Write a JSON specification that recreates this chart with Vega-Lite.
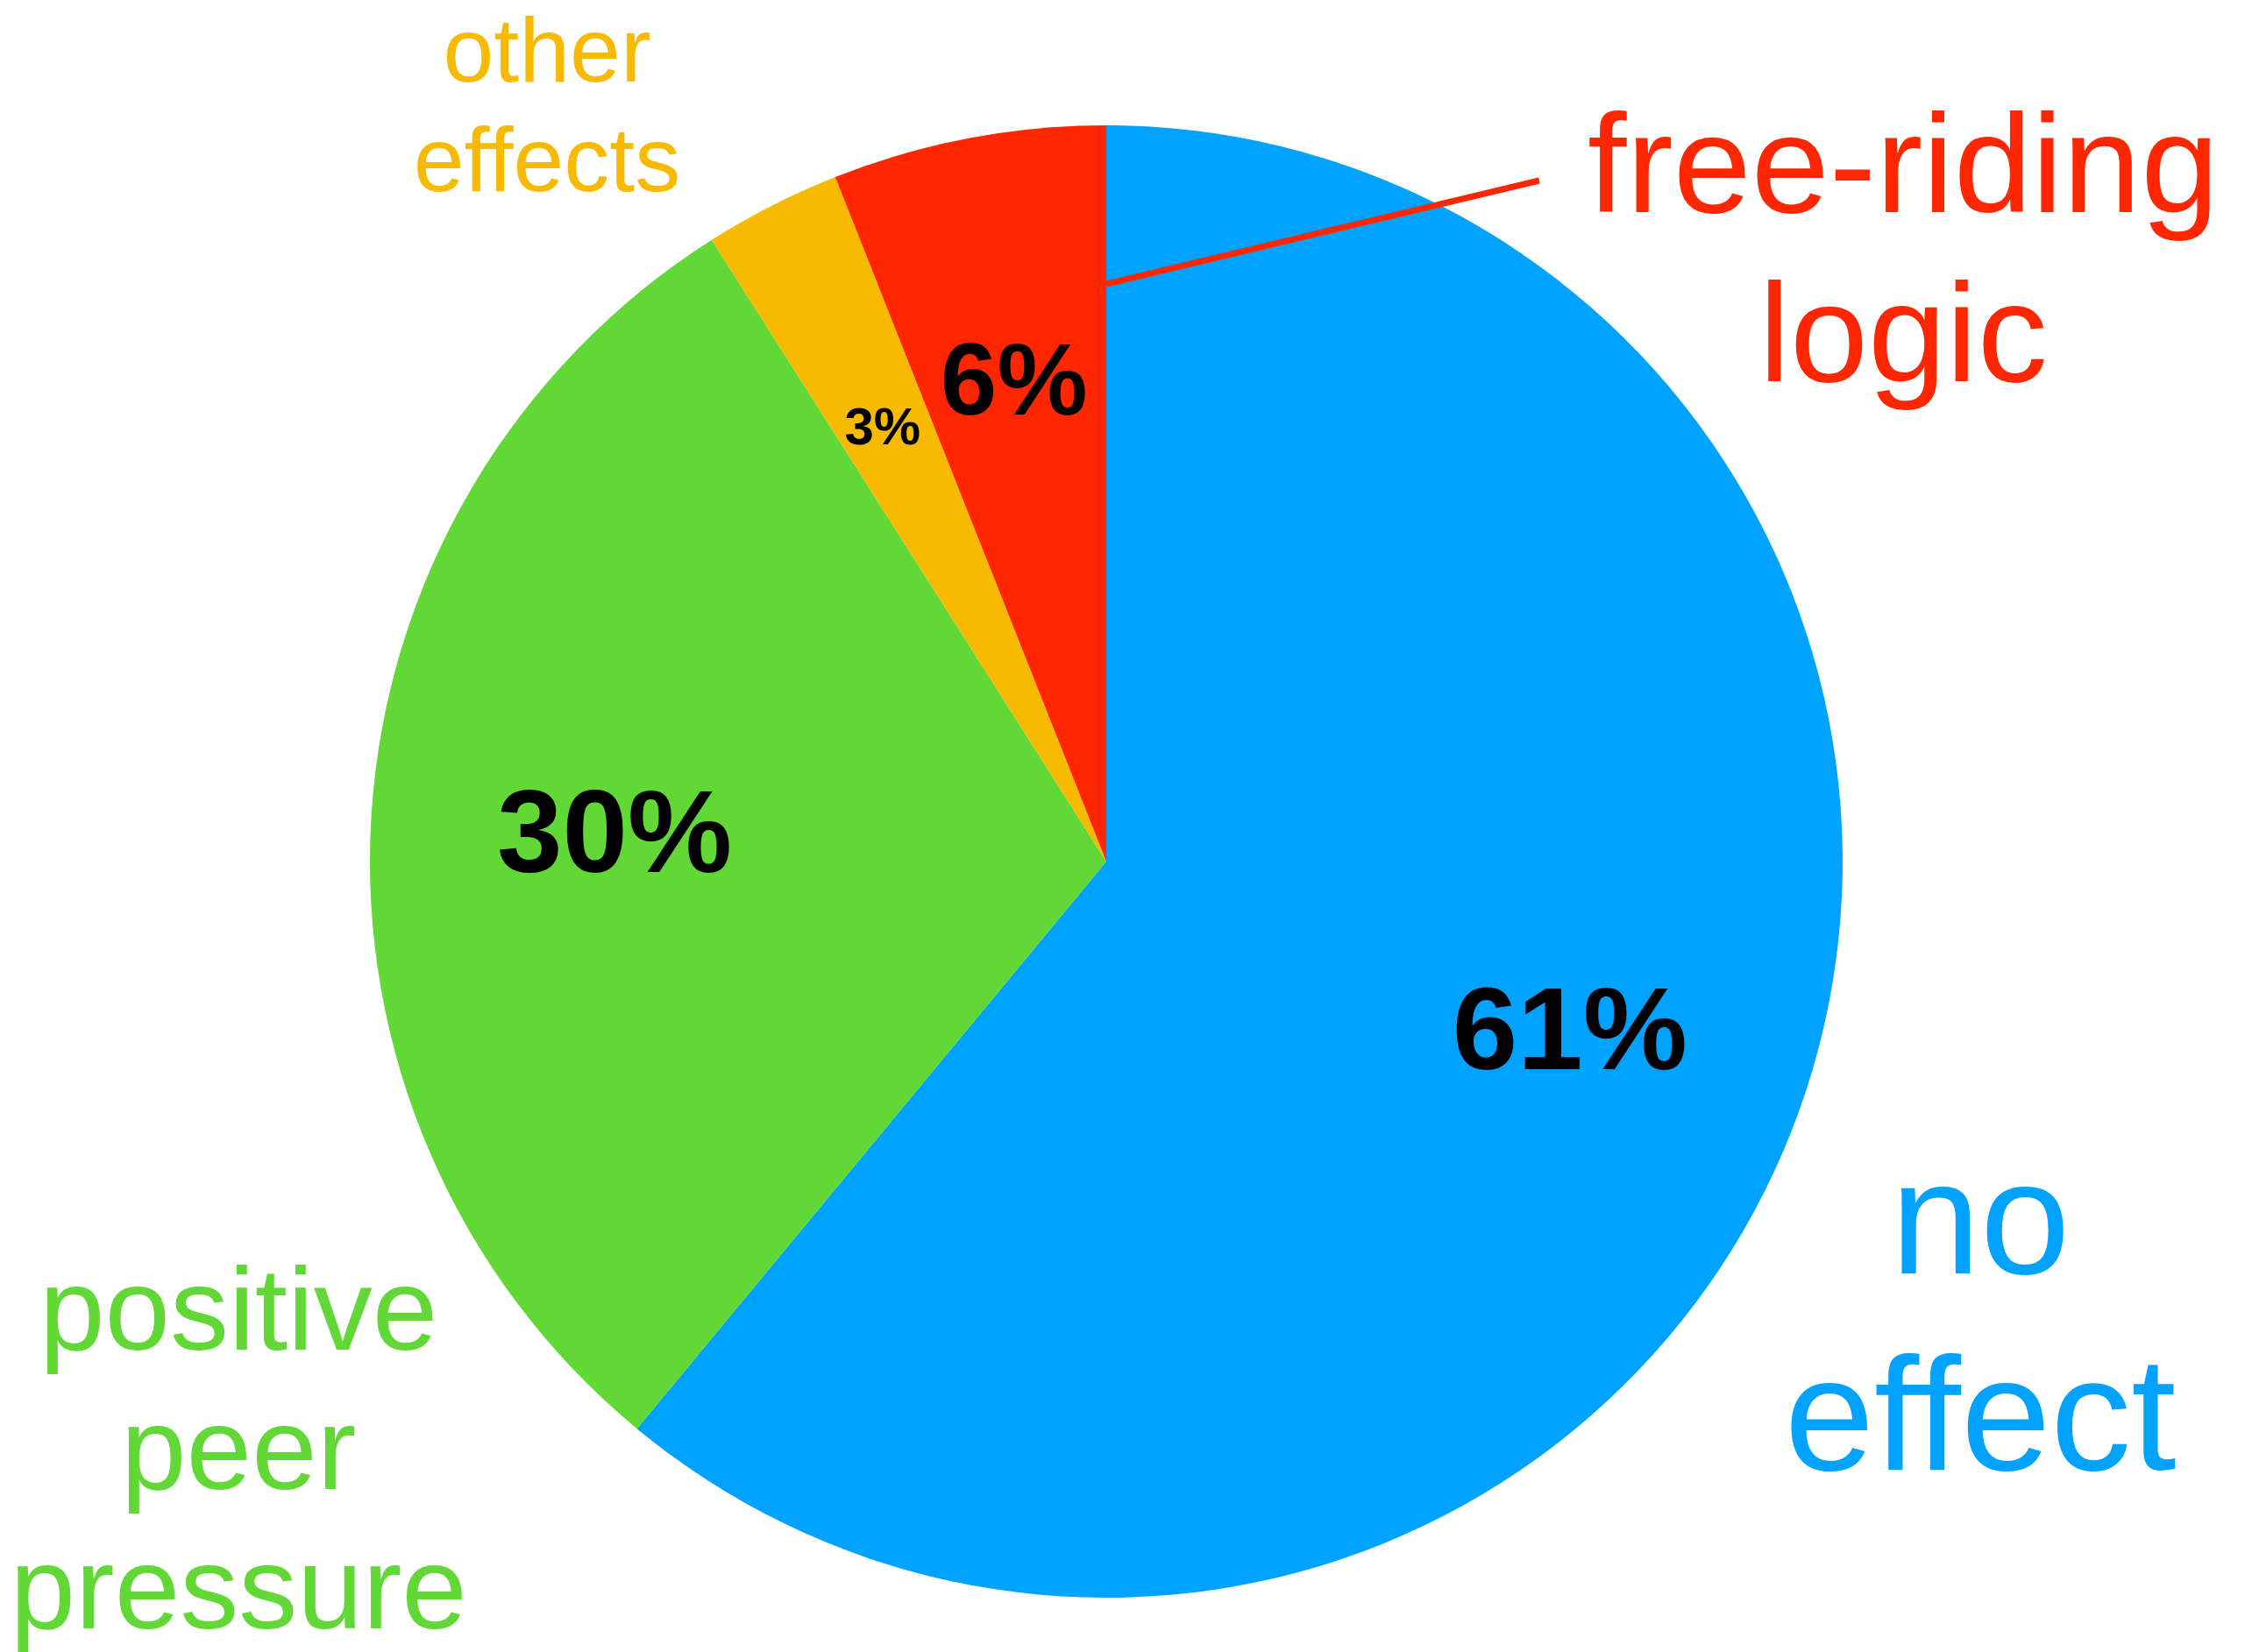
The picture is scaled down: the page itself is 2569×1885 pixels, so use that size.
{
  "$schema": "https://vega.github.io/schema/vega-lite/v6.json",
  "width": 2520,
  "height": 1764,
  "autosize": {"type": "none"},
  "padding": {"left": 2, "top": 101, "right": 47, "bottom": 20},
  "background": "white",
  "config": {"view": {"stroke": null}, "font": "Liberation Sans"},
  "datasets": {
    "slices": [
      {"effect": "no effect", "share": 0.61, "rank": 1},
      {"effect": "positive peer pressure", "share": 0.30, "rank": 2},
      {"effect": "other effects", "share": 0.03, "rank": 3},
      {"effect": "free-riding logic", "share": 0.06, "rank": 4}
    ],
    "callout": [
      {"effect": "free-riding logic", "x_from": 0, "y_from": 0.7845, "x_to": 0.588, "y_to": 0.925}
    ]
  },
  "layer": [
    {
      "data": {"name": "slices"},
      "mark": {"type": "arc", "outerRadius": 840, "stroke": null},
      "encoding": {
        "theta": {"field": "share", "type": "quantitative", "stack": true},
        "order": {"field": "rank", "type": "quantitative"},
        "color": {
          "field": "effect", "type": "nominal", "legend": null,
          "scale": {
            "domain": ["no effect", "positive peer pressure", "other effects", "free-riding logic"],
            "range": ["#00A2FF", "#61D836", "#F8BA00", "#FF2600"]
          }
        }
      }
    },
    {
      "data": {"name": "callout"},
      "mark": {"type": "rule", "color": "#FF2600", "strokeWidth": 7},
      "encoding": {
        "x": {"field": "x_from", "type": "quantitative", "axis": null, "scale": {"domain": [-1.5, 1.5], "nice": false, "zero": false}},
        "y": {"field": "y_from", "type": "quantitative", "axis": null, "scale": {"domain": [-1.05, 1.05], "nice": false, "zero": false}},
        "x2": {"field": "x_to"},
        "y2": {"field": "y_to"}
      }
    },
    {
      "data": {"name": "slices"},
      "mark": {"type": "text", "radius": 562, "dy": 7, "fontWeight": "bold", "color": "black", "align": "center", "baseline": "middle", "font": "Liberation Sans"},
      "encoding": {
        "theta": {"field": "share", "type": "quantitative", "stack": true},
        "order": {"field": "rank", "type": "quantitative"},
        "detail": {"field": "effect", "type": "nominal"},
        "text": {"field": "share", "type": "quantitative", "format": ".0%"},
        "size": {
          "condition": [
            {"test": "datum.effect === 'other effects'", "value": 60},
            {"test": "datum.effect === 'free-riding logic'", "value": 116}
          ],
          "value": 134
        }
      }
    },
    {
      "data": {"name": "slices"},
      "mark": {"type": "text", "radius": 1100, "dx": -38, "dy": 42, "fontSize": 184, "lineHeight": 224, "lineBreak": " ", "align": "center", "baseline": "middle", "font": "Liberation Sans"},
      "encoding": {
        "theta": {"field": "share", "type": "quantitative", "stack": true},
        "order": {"field": "rank", "type": "quantitative"},
        "color": {"field": "effect", "type": "nominal"},
        "text": {"condition": {"test": "datum.effect === 'no effect'", "field": "effect", "type": "nominal"}, "value": ""}
      }
    },
    {
      "data": {"name": "slices"},
      "mark": {"type": "text", "radius": 1100, "dx": 108, "dy": 586, "fontSize": 134, "lineHeight": 159, "lineBreak": " ", "align": "center", "baseline": "middle", "font": "Liberation Sans"},
      "encoding": {
        "theta": {"field": "share", "type": "quantitative", "stack": true},
        "order": {"field": "rank", "type": "quantitative"},
        "color": {"field": "effect", "type": "nominal"},
        "text": {"condition": {"test": "datum.effect === 'positive peer pressure'", "field": "effect", "type": "nominal"}, "value": ""}
      }
    },
    {
      "data": {"name": "slices"},
      "mark": {"type": "text", "radius": 1000, "dx": -184, "dy": -30, "fontSize": 104, "lineHeight": 125, "lineBreak": " ", "align": "center", "baseline": "middle", "font": "Liberation Sans"},
      "encoding": {
        "theta": {"field": "share", "type": "quantitative", "stack": true},
        "order": {"field": "rank", "type": "quantitative"},
        "color": {"field": "effect", "type": "nominal"},
        "text": {"condition": {"test": "datum.effect === 'other effects'", "field": "effect", "type": "nominal"}, "value": ""}
      }
    },
    {
      "data": {"name": "slices"},
      "mark": {"type": "text", "radius": 800, "dx": 1059, "dy": -3, "fontSize": 160, "lineHeight": 193, "lineBreak": " ", "align": "center", "baseline": "middle", "font": "Liberation Sans"},
      "encoding": {
        "theta": {"field": "share", "type": "quantitative", "stack": true},
        "order": {"field": "rank", "type": "quantitative"},
        "color": {"field": "effect", "type": "nominal"},
        "text": {"condition": {"test": "datum.effect === 'free-riding logic'", "field": "effect", "type": "nominal"}, "value": ""}
      }
    }
  ]
}
